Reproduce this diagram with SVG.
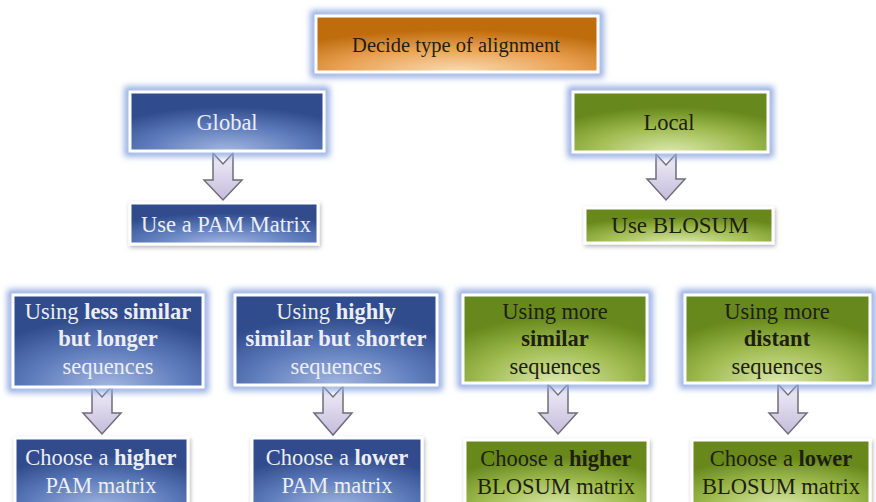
<svg xmlns="http://www.w3.org/2000/svg" width="876" height="502" viewBox="0 0 876 502">
<defs>
<radialGradient id="gBlue" cx="50%" cy="100%" r="75%" fx="50%" fy="100%">
<stop offset="0" stop-color="#a3b6e0"/><stop offset="0.55" stop-color="#5e7cbc"/><stop offset="1" stop-color="#314c8c"/>
</radialGradient>
<radialGradient id="gGreen" cx="50%" cy="100%" r="75%" fx="50%" fy="100%">
<stop offset="0" stop-color="#dbe8ac"/><stop offset="0.55" stop-color="#9fbb50"/><stop offset="1" stop-color="#67881c"/>
</radialGradient>
<radialGradient id="gOrange" cx="50%" cy="100%" r="75%" fx="50%" fy="100%">
<stop offset="0" stop-color="#f9dcb4"/><stop offset="0.55" stop-color="#eaa254"/><stop offset="1" stop-color="#bf6c0c"/>
</radialGradient>
<linearGradient id="gArrow" x1="0" y1="0" x2="0" y2="1">
<stop offset="0" stop-color="#f2eff9"/><stop offset="1" stop-color="#c4bcdc"/>
</linearGradient>
<filter id="glow" x="-10%" y="-20%" width="120%" height="140%">
<feGaussianBlur stdDeviation="3"/>
</filter>
<filter id="shadow" x="-10%" y="-20%" width="120%" height="150%">
<feDropShadow dx="1" dy="2" stdDeviation="2" flood-color="#000" flood-opacity="0.3"/>
</filter>
</defs>
<style>
.halo{fill:none;stroke:#8fa8e0;stroke-width:7;filter:url(#glow)}
.box{stroke:#fff;stroke-width:3}
.blue{fill:url(#gBlue)}
.green{fill:url(#gGreen)}
.orange{fill:url(#gOrange)}
.sh{filter:url(#shadow)}
text{text-anchor:middle}
.lt{fill:#eceef5}
.dk{fill:#1e1e12}
.b{font-weight:bold}
.arrow{fill:url(#gArrow);stroke:#6e6e78;stroke-width:1.5;stroke-linejoin:miter}
</style>
<rect width="876" height="502" fill="#fff"/>

<g id="connectors">
<path class="arrow" d="M213,153 L223,164 L233,153 L233,180 L242,180 L223,200 L204,180 L213,180 Z"/>
<path class="arrow" d="M656,154 L666,165 L676,154 L676,179 L685,179 L666,200 L647,179 L656,179 Z"/>
<path class="arrow" d="M92,386 L102,397 L112,386 L112,413 L121,413 L102,434 L83,413 L92,413 Z"/>
<path class="arrow" d="M323,386 L333,397 L343,386 L343,413 L352,413 L333,435 L314,413 L323,413 Z"/>
<path class="arrow" d="M548,384 L558,395 L568,384 L568,413 L577,413 L558,434 L539,413 L548,413 Z"/>
<path class="arrow" d="M778,384 L788,395 L798,384 L798,413 L807,413 L788,434 L769,413 L778,413 Z"/>
</g>

<g font-family="Liberation Serif, Times New Roman, DejaVu Serif, serif">
<g id="decide">
<rect class="halo" x="314" y="14" width="286" height="60"/>
<rect class="box orange" x="316" y="16" width="282" height="56"/>
<text x="456" y="52" font-size="20.5" class="dk">Decide type of alignment</text>
</g>

<g id="global">
<rect class="halo" x="128" y="90" width="198" height="63"/>
<rect class="box blue" x="130" y="92" width="194" height="59"/>
<text x="227" y="130" font-size="22.5" class="lt">Global</text>
</g>

<g id="local">
<rect class="halo" x="571" y="90" width="199" height="64"/>
<rect class="box green" x="573" y="92" width="195" height="60"/>
<text x="669" y="130" font-size="22.5" class="dk">Local</text>
</g>

<g id="use-pam">
<rect class="box blue sh" x="130" y="203" width="188" height="41"/>
<text x="226" y="232" font-size="22.5" class="lt">Use a PAM Matrix</text>
</g>

<g id="use-blosum">
<rect class="box green sh" x="585" y="208" width="188" height="35"/>
<text x="680" y="233" font-size="23" class="dk">Use BLOSUM</text>
</g>

<g id="less-similar">
<rect class="halo" x="11" y="293" width="194" height="96"/>
<rect class="box blue" x="13" y="295" width="190" height="92"/>
<text x="108" y="319" font-size="22.5" class="lt">Using <tspan class="b">less similar</tspan></text>
<text x="108" y="346" font-size="22.5" class="lt b">but longer</text>
<text x="108" y="374" font-size="22.5" class="lt">sequences</text>
</g>

<g id="highly-similar">
<rect class="halo" x="233" y="293" width="206" height="94"/>
<rect class="box blue" x="235" y="295" width="202" height="90"/>
<text x="336" y="319" font-size="22.5" class="lt">Using <tspan class="b">highly</tspan></text>
<text x="336" y="346" font-size="22.5" class="lt b">similar but shorter</text>
<text x="336" y="374" font-size="22.5" class="lt">sequences</text>
</g>

<g id="more-similar">
<rect class="halo" x="461" y="293" width="188" height="92"/>
<rect class="box green" x="463" y="295" width="184" height="88"/>
<text x="555" y="319" font-size="22.5" class="dk">Using more</text>
<text x="555" y="346" font-size="22.5" class="dk b">similar</text>
<text x="555" y="374" font-size="22.5" class="dk">sequences</text>
</g>

<g id="more-distant">
<rect class="halo" x="683" y="293" width="189" height="92"/>
<rect class="box green" x="685" y="295" width="185" height="88"/>
<text x="777" y="319" font-size="22.5" class="dk">Using more</text>
<text x="777" y="346" font-size="22.5" class="dk b">distant</text>
<text x="777" y="374" font-size="22.5" class="dk">sequences</text>
</g>

<g id="higher-pam">
<rect class="box blue sh" x="15" y="438" width="173" height="70"/>
<text x="101" y="465" font-size="22.5" class="lt">Choose a <tspan class="b">higher</tspan></text>
<text x="101" y="493" font-size="22.5" class="lt">PAM matrix</text>
</g>

<g id="lower-pam">
<rect class="box blue sh" x="252" y="438" width="170" height="70"/>
<text x="337" y="465" font-size="22.5" class="lt">Choose a <tspan class="b">lower</tspan></text>
<text x="337" y="493" font-size="22.5" class="lt">PAM matrix</text>
</g>

<g id="higher-blosum">
<rect class="box green sh" x="465" y="440" width="183" height="68"/>
<text x="556" y="466" font-size="22.5" class="dk">Choose a <tspan class="b">higher</tspan></text>
<text x="556" y="494" font-size="22.5" class="dk">BLOSUM matrix</text>
</g>

<g id="lower-blosum">
<rect class="box green sh" x="692" y="440" width="178" height="68"/>
<text x="781" y="466" font-size="22.5" class="dk">Choose a <tspan class="b">lower</tspan></text>
<text x="781" y="494" font-size="22.5" class="dk">BLOSUM matrix</text>
</g>
</g>
</svg>
